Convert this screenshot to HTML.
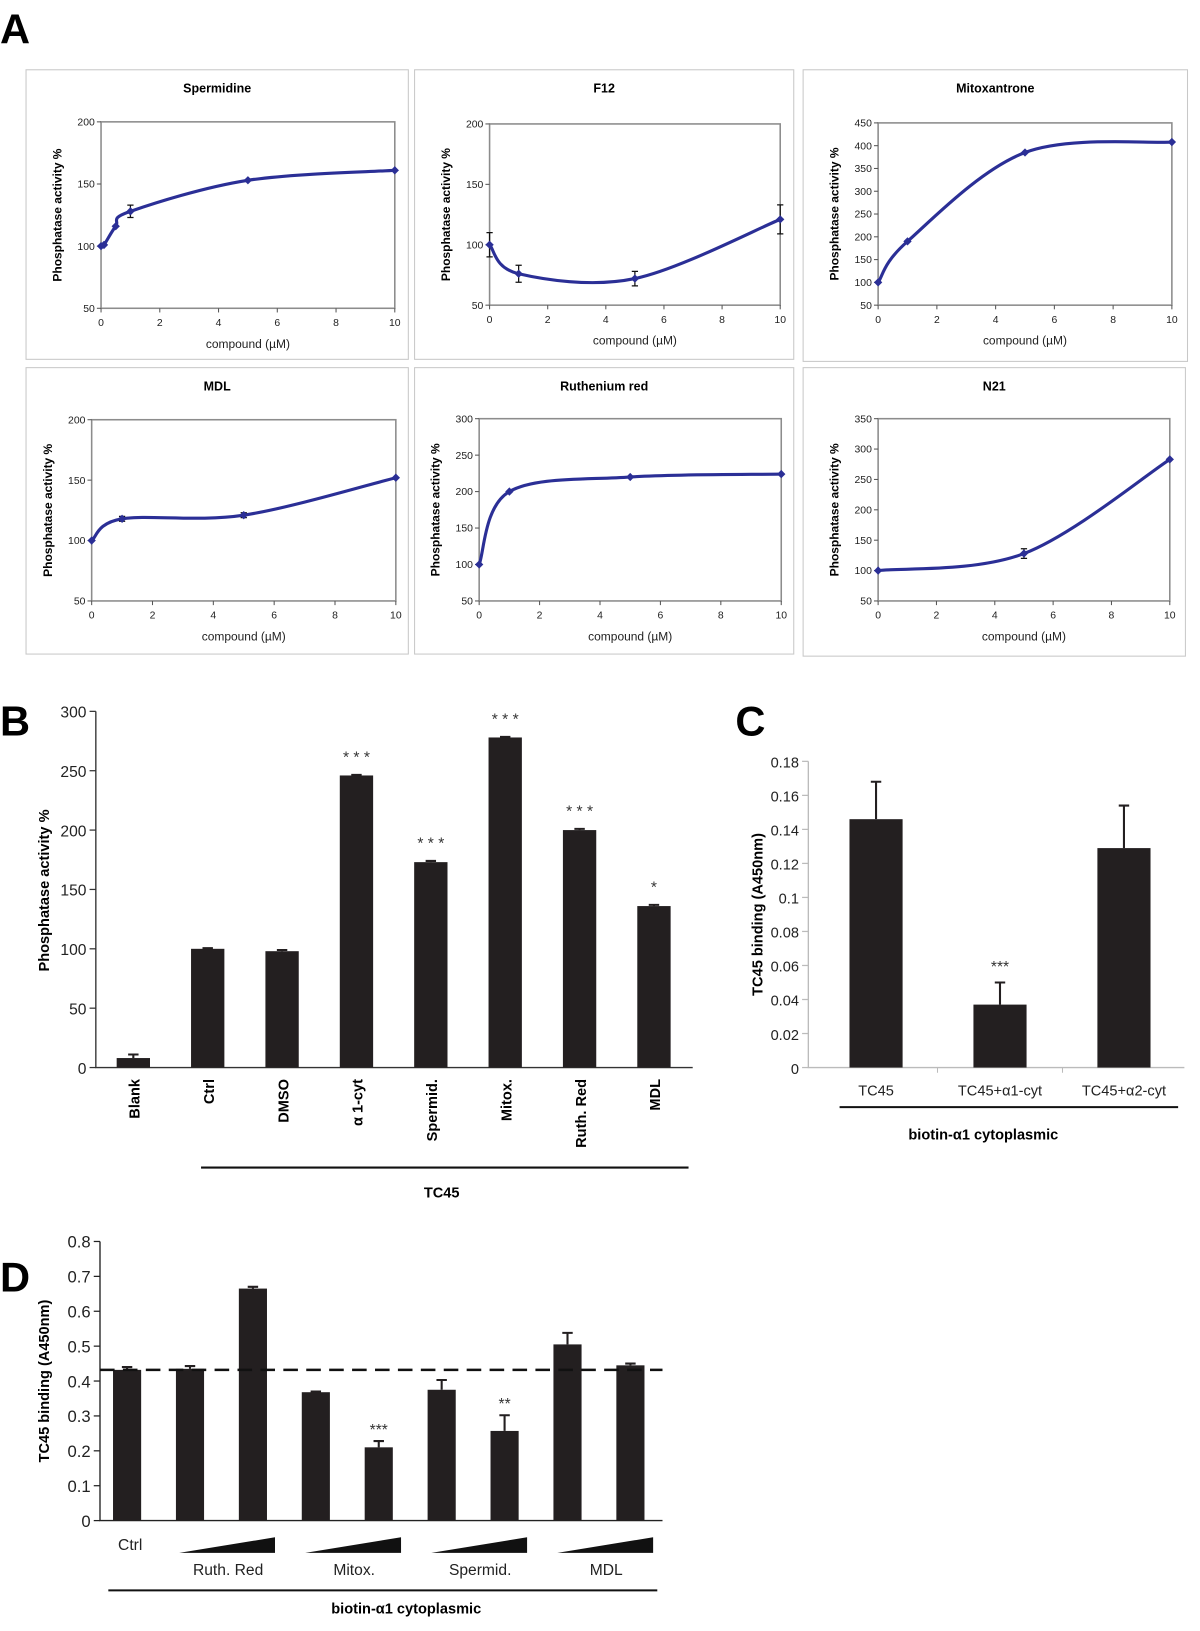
<!DOCTYPE html>
<html><head><meta charset="utf-8">
<style>
html,body{margin:0;padding:0;background:#fff;}
svg{display:block;font-family:"Liberation Sans",Arial,sans-serif;}
</style></head>
<body>
<svg id="fig" width="1200" height="1631" viewBox="0 0 1152 1566" preserveAspectRatio="none" xmlns="http://www.w3.org/2000/svg">
<text x="0" y="42" font-size="40" font-weight="bold">A</text>
<text x="0" y="706" font-size="40" font-weight="bold">B</text>
<text x="706" y="706" font-size="40" font-weight="bold">C</text>
<text x="0" y="1240" font-size="40" font-weight="bold">D</text>
<g id="gA"></g><g id="gB"></g><g id="gC"></g><g id="gD"></g>
</svg>
<script>
// ---- Panel A data ----
const spermX=[0,0.1,0.5,1,5,10];
const spermY=[100,101,116,128,153,161];
const spermE=[0,0,0,5,0,0];
const f12X=[0,1,5,10];
const f12Y=[100,76,72,121];
const f12E=[10,7,6,12];
const mitoX=[0,1,5,10];
const mitoY=[100,190,385,408];
const mitoE=[0,0,0,0];
const mdlX=[0,1,5,10];
const mdlY=[100,118,121,152];
const mdlE=[0,2,2,0];
const ruthX=[0,1,5,10];
const ruthY=[100,200,220,224];
const ruthE=[0,0,0,0];
const n21X=[0,5,10];
const n21Y=[100,128,283];
const n21E=[0,8,0];
const xTicksA=[0,2,4,6,8,10];
const yTicksSperm=[50,100,150,200];
const yTicksF12=[50,100,150,200];
const yTicksMito=[50,100,150,200,250,300,350,400,450];
const yTicksMdl=[50,100,150,200];
const yTicksRuth=[50,100,150,200,250,300];
const yTicksN21=[50,100,150,200,250,300,350];
// ---- Panel B data ----
const bCats=["Blank","Ctrl","DMSO","α 1-cyt","Spermid.","Mitox.","Ruth. Red","MDL"];
const bVals=[8,100,98,246,173,278,200,136];
const bErrs=[3,0.5,1,0.5,1,0.5,1,1];
const bStars=["","","","* * *","* * *","* * *","* * *","*"];
const bTicks=[0,50,100,150,200,250,300];
// ---- Panel C data ----
const cCats=["TC45","TC45+α1-cyt","TC45+α2-cyt"];
const cVals=[0.146,0.037,0.129];
const cErrs=[0.022,0.013,0.025];
const cStars=["","***",""];
const cTicks=[0,0.02,0.04,0.06,0.08,0.1,0.12,0.14,0.16,0.18];
// ---- Panel D data ----
const dVals=[0.432,0.435,0.665,0.368,0.21,0.375,0.257,0.505,0.445];
const dErrs=[0.008,0.008,0.005,0.002,0.018,0.028,0.045,0.033,0.005];
const dStars=["","","","","***","","**","",""];
const dRef=0.432;
const dTicks=[0,0.1,0.2,0.3,0.4,0.5,0.6,0.7,0.8];
const dGroups=["Ruth. Red","Mitox.","Spermid.","MDL"];

const NS="http://www.w3.org/2000/svg";
function mk(parent,tag,attrs,text){const e=document.createElementNS(NS,tag);for(const k in attrs)e.setAttribute(k,attrs[k]);if(text!==undefined)e.textContent=text;parent.appendChild(e);return e;}

function spline(pts){
  let d="M"+pts[0][0]+","+pts[0][1];
  for(let i=0;i<pts.length-1;i++){
    const p0=pts[i-1]||pts[i],p1=pts[i],p2=pts[i+1],p3=pts[i+2]||p2;
    const c1=[p1[0]+(p2[0]-p0[0])/6,p1[1]+(p2[1]-p0[1])/6];
    const c2=[p2[0]-(p3[0]-p1[0])/6,p2[1]-(p3[1]-p1[1])/6];
    d+=" C"+c1[0]+","+c1[1]+" "+c2[0]+","+c2[1]+" "+p2[0]+","+p2[1];
  }
  return d;
}

const gA=document.getElementById('gA');
const panelsA=[
 {t:"Spermidine",box:[25,67,367,278],x0:97,x1:379,yt:117,yb:296,ticks:yTicksSperm,X:spermX,Y:spermY,E:spermE,n:"spermidine"},
 {t:"F12",box:[398,67,364,278],x0:470,x1:749,yt:119,yb:293,ticks:yTicksF12,X:f12X,Y:f12Y,E:f12E,n:"f12"},
 {t:"Mitoxantrone",box:[771,67,369,280],x0:843,x1:1125,yt:118,yb:293,ticks:yTicksMito,X:mitoX,Y:mitoY,E:mitoE,n:"mitoxantrone"},
 {t:"MDL",box:[25,353,367,275],x0:88,x1:380,yt:403,yb:577,ticks:yTicksMdl,X:mdlX,Y:mdlY,E:mdlE,n:"mdl"},
 {t:"Ruthenium red",box:[398,353,364,275],x0:460,x1:750,yt:402,yb:577,ticks:yTicksRuth,X:ruthX,Y:ruthY,E:ruthE,n:"ruthenium-red"},
 {t:"N21",box:[771,353,367,277],x0:843,x1:1123,yt:402,yb:577,ticks:yTicksN21,X:n21X,Y:n21Y,E:n21E,n:"n21"}
];
panelsA.forEach(p=>{
  const g=mk(gA,'g',{});
  
  
  const b=mk(g,'rect',{x:p.box[0],y:p.box[1],width:p.box[2],height:p.box[3],fill:'#fff',stroke:'#c8c8c8','stroke-width':1});
  
  const tt=mk(g,'text',{x:(p.box[0]+p.box[0]+p.box[2])/2,y:p.box[1]+22,'font-size':12,'font-weight':'bold','text-anchor':'middle'},p.t);
  
  const ymin=p.ticks[0],ymax=p.ticks[p.ticks.length-1];
  const sx=v=>p.x0+(v-0)/10*(p.x1-p.x0);
  const sy=v=>p.yb-(v-ymin)/(ymax-ymin)*(p.yb-p.yt);
  const pa=mk(g,'rect',{x:p.x0,y:p.yt,width:p.x1-p.x0,height:p.yb-p.yt,fill:'none',stroke:'#8c8c8c','stroke-width':1.5});
  
  p.ticks.forEach(v=>{
    mk(g,'line',{x1:p.x0-4,x2:p.x0,y1:sy(v),y2:sy(v),stroke:'#555'});
    const l=mk(g,'text',{x:p.x0-6,y:sy(v)+3.5,'font-size':10,'text-anchor':'end',fill:'#222'},v);
    
  });
  xTicksA.forEach(v=>{
    mk(g,'line',{x1:sx(v),x2:sx(v),y1:p.yb,y2:p.yb+4,stroke:'#555'});
    const l=mk(g,'text',{x:sx(v),y:p.yb+17,'font-size':10,'text-anchor':'middle',fill:'#222'},v);
    
  });
  const xl=mk(g,'text',{x:(p.x0+p.x1)/2,y:p.yb+38,'font-size':11.5,'text-anchor':'middle',fill:'#222'},'compound (µM)');
  
  const yc=(p.yt+p.yb)/2,yx=p.x0-38;
  const yl=mk(g,'text',{x:yx,y:yc,'font-size':11.5,'font-weight':'bold','text-anchor':'middle',transform:`rotate(-90 ${yx} ${yc})`},'Phosphatase activity %');
  
  const pts=p.X.map((x,i)=>[sx(x),sy(p.Y[i])]);
  const ln=mk(g,'path',{d:spline(pts),fill:'none',stroke:'#2b2f96','stroke-width':3});
  
  p.X.forEach((x,i)=>{
    const cx=sx(x),cy=sy(p.Y[i]);
    if(p.E[i]>0){
      const e1=sy(p.Y[i]+p.E[i]),e2=sy(p.Y[i]-p.E[i]);
      const eb=mk(g,'path',{d:`M${cx},${e1}V${e2}M${cx-3},${e1}H${cx+3}M${cx-3},${e2}H${cx+3}`,stroke:'#111','stroke-width':1.2,fill:'none'});
      
    }
    const m=mk(g,'path',{d:`M${cx},${cy-4}L${cx+4},${cy}L${cx},${cy+4}L${cx-4},${cy}Z`,fill:'#2b2f96'});
    
  });
});

function barChart(g,opt){
  const sy=v=>opt.y0-(v-opt.tmin)/(opt.tmax-opt.tmin)*(opt.y0-opt.ytop);
  const ax=mk(g,'path',{d:`M${opt.ax},${opt.ytop}V${opt.y0}H${opt.xend}`,stroke:opt.axc,'stroke-width':1.3,fill:'none'});
  
  opt.ticks.forEach(v=>{
    mk(g,'line',{x1:opt.ax-6,x2:opt.ax,y1:sy(v),y2:sy(v),stroke:opt.axc,'stroke-width':1.2});
    const l=mk(g,'text',{x:opt.ax-9,y:sy(v)+6,'font-size':opt.fs,'text-anchor':'end',fill:'#222'},opt.fmt(v));
    
  });
  opt.vals.forEach((v,i)=>{
    const cx=opt.c0+i*opt.step;
    const r=mk(g,'rect',{x:cx-opt.bw/2,y:sy(v),width:opt.bw,height:opt.y0-sy(v),fill:'#231f20'});
    
    if(opt.errs[i]>0){
      const et=sy(v+opt.errs[i]);
      const e=mk(g,'path',{d:`M${cx},${sy(v)}V${et}M${cx-5},${et}H${cx+5}`,stroke:'#231f20','stroke-width':2,fill:'none'});
      
    }
    if(opt.stars[i]){
      const s=mk(g,'text',{x:cx,y:sy(v+opt.errs[i])-opt.sgap,'font-size':15,'text-anchor':'middle',fill:'#333'},opt.stars[i]);
      
    }
  });
  return sy;
}

// Panel B
const gB=document.getElementById('gB');
barChart(gB,{ax:92,y0:1025,ytop:683,xend:665,tmin:0,tmax:300,ticks:bTicks,fmt:v=>v,fs:15,axc:'#333',
  vals:bVals,errs:bErrs,stars:bStars,c0:128,step:71.4,bw:32,sgap:12});
bCats.forEach((c,i)=>{
  const x=128+i*71.4+6,y=1036;
  const t=mk(gB,'text',{x:x,y:y,'font-size':14,'font-weight':'bold','text-anchor':'end',transform:`rotate(-90 ${x} ${y})`},c);
  
});
{
 const l=mk(gB,'line',{x1:193,x2:661,y1:1121,y2:1121,stroke:'#111','stroke-width':2});
 
 const t=mk(gB,'text',{x:424,y:1150,'font-size':14,'font-weight':'bold','text-anchor':'middle'},'TC45');
 
 const yt=mk(gB,'text',{x:47,y:855,'font-size':14,'font-weight':'bold','text-anchor':'middle',transform:'rotate(-90 47 855)'},'Phosphatase activity %');
 
}

// Panel C
const gC=document.getElementById('gC');
barChart(gC,{ax:776,y0:1025,ytop:731,xend:1137,tmin:0,tmax:0.18,ticks:cTicks,fmt:v=>String(+v.toFixed(2)),fs:14,axc:'#bbb',
  vals:cVals,errs:cErrs,stars:cStars,c0:841,step:119,bw:51,sgap:10});
[900,1020].forEach(x=>mk(gC,'line',{x1:x,x2:x,y1:1025,y2:1030,stroke:'#bbb'}));
cCats.forEach((c,i)=>{
  const t=mk(gC,'text',{x:841+i*119,y:1052,'font-size':14,'text-anchor':'middle',fill:'#222'},c);
  
});
{
 const l=mk(gC,'line',{x1:806,x2:1131,y1:1063,y2:1063,stroke:'#111','stroke-width':2});
 
 const t=mk(gC,'text',{x:944,y:1094,'font-size':14,'font-weight':'bold','text-anchor':'middle'},'biotin-α1 cytoplasmic');
 
 const yt=mk(gC,'text',{x:732,y:878,'font-size':14,'font-weight':'bold','text-anchor':'middle',transform:'rotate(-90 732 878)'},'TC45 binding (A450nm)');
 
}

// Panel D
const gD=document.getElementById('gD');
const syD=barChart(gD,{ax:96,y0:1460,ytop:1192,xend:636,tmin:0,tmax:0.8,ticks:dTicks,fmt:v=>String(+v.toFixed(1)),fs:16,axc:'#222',
  vals:dVals,errs:dErrs,stars:dStars,c0:122,step:60.4,bw:27,sgap:6});
{
 const dl=mk(gD,'line',{x1:96,x2:636,y1:syD(dRef),y2:syD(dRef),stroke:'#111','stroke-width':2.5,'stroke-dasharray':'14,8'});
 
 const ct=mk(gD,'text',{x:125,y:1488,'font-size':15,'text-anchor':'middle',fill:'#222'},'Ctrl');
 
 dGroups.forEach((gname,i)=>{
  const x0=172+i*121,x1=x0+92;
  const tri=mk(gD,'polygon',{points:`${x0},1491 ${x1},1476 ${x1},1491`,fill:'#111'});
  
  const t=mk(gD,'text',{x:x0+47,y:1512,'font-size':15,'text-anchor':'middle',fill:'#222'},gname);
  
 });
 const l=mk(gD,'line',{x1:104,x2:631,y1:1527,y2:1527,stroke:'#111','stroke-width':2});
 
 const t=mk(gD,'text',{x:390,y:1549,'font-size':14,'font-weight':'bold','text-anchor':'middle'},'biotin-α1 cytoplasmic');
 
 const yt=mk(gD,'text',{x:47,y:1326,'font-size':14,'font-weight':'bold','text-anchor':'middle',transform:'rotate(-90 47 1326)'},'TC45 binding (A450nm)');
 
}
</script>
</body></html>
